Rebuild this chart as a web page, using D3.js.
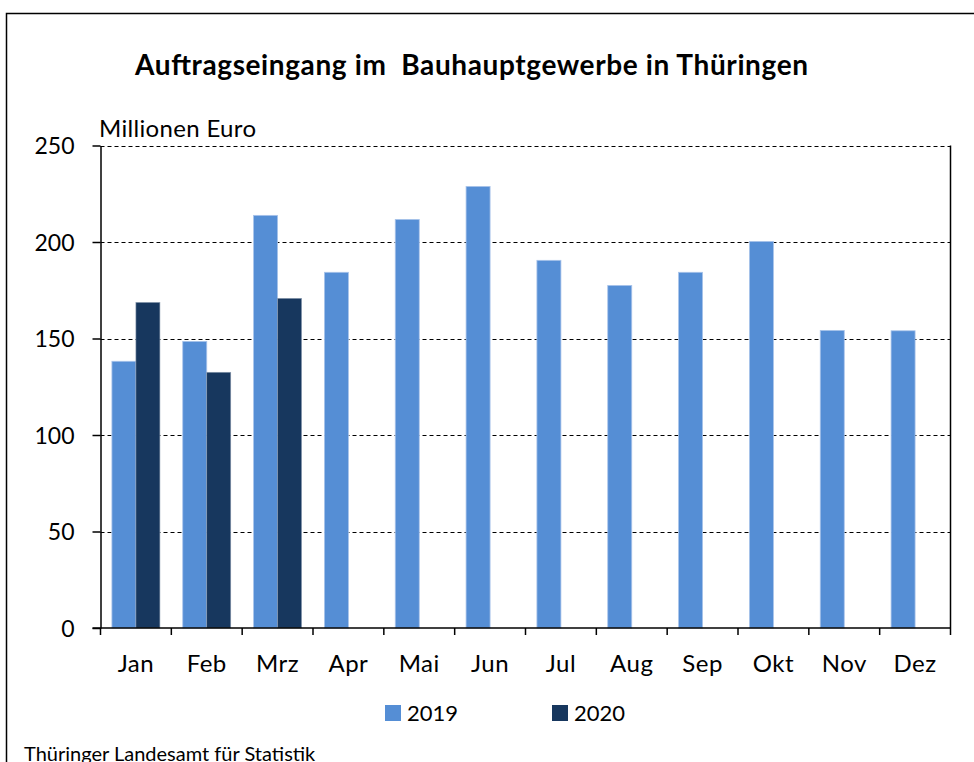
<!DOCTYPE html>
<html lang="de">
<head>
<meta charset="UTF-8">
<title>Auftragseingang im Bauhauptgewerbe</title>
<script src="https://d3js.org/d3.v7.min.js"></script>
<style>
  body { margin: 0; background: #fff; }
  text { font-family: "Lato", "Noto Sans", sans-serif; fill: #000; }
</style>
</head>
<body>
<div id="chart"></div>
<script>
// data, Millionen Euro
var months = ["Jan", "Feb", "Mrz", "Apr", "Mai", "Jun", "Jul", "Aug", "Sep", "Okt", "Nov", "Dez"];
var years = ["2019", "2020"];
var values2019 = [138.2, 148.5, 213.8, 184.3, 211.7, 228.8, 190.5, 177.5, 184.3, 200.3, 154.2, 154.0];
var values2020 = [168.7, 132.5, 170.8];
var yTicks = [0, 50, 100, 150, 200, 250];
var colors = ["#558ed5", "#17375e"];

var width = 974, height = 762;
var margin = { top: 145.5, left: 100.5, right: 23.5, bottom: 134 };

var svg = d3.select("#chart").append("svg")
    .attr("width", width)
    .attr("height", height);

// outer frame
svg.append("rect")
    .attr("x", 6.5).attr("y", 13.5)
    .attr("width", 980).attr("height", 800)
    .attr("fill", "none").attr("stroke", "#000").attr("stroke-width", 1.5);

var x = d3.scaleBand()
    .domain(months)
    .range([margin.left, width - margin.right]);

var x1 = d3.scaleBand()
    .domain(years)
    .range([0, 48]);

var y = d3.scaleLinear()
    .domain([0, 250])
    .range([height - margin.bottom, margin.top]);

// gridlines
svg.append("g")
    .selectAll("line")
    .data(yTicks.filter(d => d > 0))
    .join("line")
    .attr("x1", margin.left).attr("x2", width - margin.right)
    .attr("y1", d => Math.round(y(d)) + 0.5).attr("y2", d => Math.round(y(d)) + 0.5)
    .attr("stroke", "#000")
    .attr("stroke-width", 1)
    .attr("stroke-dasharray", "4,3");

// right border of plot
svg.append("line")
    .attr("x1", width - margin.right).attr("x2", width - margin.right)
    .attr("y1", y(250)).attr("y2", y(0))
    .attr("stroke", "#000").attr("stroke-width", 1.5);

// bars
function barX(i, yr) {
    var m = months[i];
    return x(m) + x.bandwidth() / 2 - 24 + x1(yr);
}

svg.append("g")
    .selectAll("rect")
    .data(values2019)
    .join("rect")
    .attr("x", (d, i) => barX(i, "2019"))
    .attr("y", d => y(d))
    .attr("width", x1.bandwidth())
    .attr("height", d => y(0) - y(d))
    .attr("fill", colors[0])
    .attr("stroke", "#a9c4ea")
    .attr("stroke-width", 0.8);

svg.append("g")
    .selectAll("rect")
    .data(values2020)
    .join("rect")
    .attr("x", (d, i) => barX(i, "2020"))
    .attr("y", d => y(d))
    .attr("width", x1.bandwidth())
    .attr("height", d => y(0) - y(d))
    .attr("fill", colors[1])
    .attr("stroke", "#8c9cb0")
    .attr("stroke-width", 0.6);

// y axis
var yAxis = svg.append("g")
    .attr("transform", "translate(" + margin.left + ",0)")
    .call(d3.axisLeft(y).tickValues(yTicks).tickSize(8).tickSizeOuter(0).tickPadding(18));
yAxis.select(".domain").attr("stroke-width", 1.5);
yAxis.selectAll(".tick line").attr("stroke-width", 1.5);
yAxis.selectAll("text").style("font-size", "23px").attr("dy", "0.36em");

// x axis with ticks at category boundaries
var xAxis = svg.append("g")
    .attr("transform", "translate(0," + y(0) + ")");
xAxis.append("line")
    .attr("x1", margin.left - 8).attr("x2", width - margin.right)
    .attr("stroke", "#000").attr("stroke-width", 1.5);
var bounds = months.map(m => x(m)).concat([width - margin.right]);
xAxis.selectAll(".bt")
    .data(bounds)
    .join("line")
    .attr("class", "bt")
    .attr("x1", d => d).attr("x2", d => d)
    .attr("y1", 0).attr("y2", 7)
    .attr("stroke", "#000").attr("stroke-width", 1.5);
xAxis.selectAll(".lbl")
    .data(months)
    .join("text")
    .attr("class", "lbl")
    .attr("x", d => x(d) + x.bandwidth() / 2)
    .attr("y", 44)
    .attr("text-anchor", "middle")
    .style("font-size", "24px")
    .style("letter-spacing", "0.5px")
    .text(d => d);

// title
svg.append("text")
    .attr("x", 135).attr("y", 75)
    .style("font-size", "28px")
    .style("font-weight", "bold")
    .attr("xml:space", "preserve")
    .attr("textLength", 673)
    .attr("lengthAdjust", "spacing")
    .text("Auftragseingang im  Bauhauptgewerbe in Thüringen");

// unit label
svg.append("text")
    .attr("x", 99).attr("y", 137)
    .style("font-size", "24px")
    .attr("textLength", 157)
    .attr("lengthAdjust", "spacing")
    .text("Millionen Euro");

// legend
var legend = svg.append("g")
    .selectAll("g")
    .data(years)
    .join("g")
    .attr("transform", (d, i) => "translate(" + (385 + i * 167) + ",705)");
legend.append("rect")
    .attr("width", 16).attr("height", 16)
    .attr("fill", (d, i) => colors[i]);
legend.append("text")
    .attr("x", 22).attr("y", 16)
    .style("font-size", "22px")
    .text(d => d);

// source
svg.append("text")
    .attr("x", 24).attr("y", 761)
    .style("font-size", "20px")
    .text("Thüringer Landesamt für Statistik");
</script>
</body>
</html>
